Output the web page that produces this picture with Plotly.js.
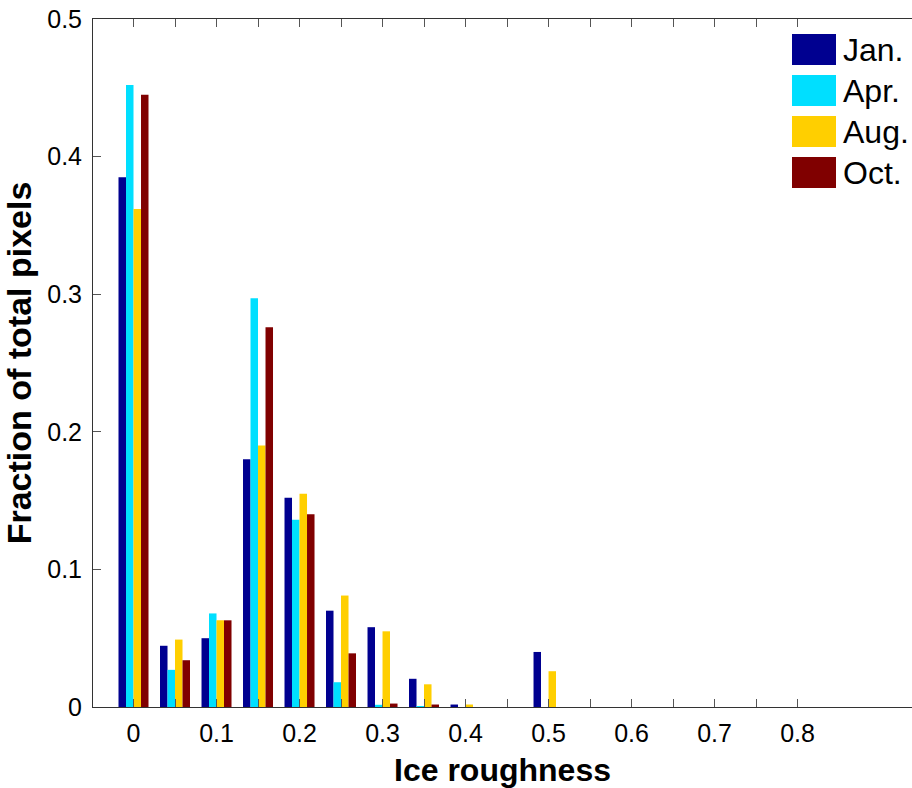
<!DOCTYPE html>
<html>
<head>
<meta charset="utf-8">
<script src="https://cdn.plot.ly/plotly-3.0.1.min.js"></script>
<style>html,body{margin:0;padding:0;background:#fff;overflow:hidden;}</style>
</head>
<body>
<div id="chart" style="width:912px;height:788px;"></div>
<script>
// ---- data ----
const roughness = [0, 0.05, 0.1, 0.15, 0.2, 0.25, 0.3, 0.35, 0.4, 0.45, 0.5, 0.55, 0.6, 0.65, 0.7, 0.75, 0.8];
const seriesNames = ['Jan.', 'Apr.', 'Aug.', 'Oct.'];
const janValues = [0.385, 0.0445, 0.050, 0.180, 0.152, 0.070, 0.058, 0.0205, 0.0018, 0, 0.040, 0, 0, 0, 0, 0, 0];
const aprValues = [0.452, 0.027, 0.068, 0.297, 0.136, 0.018, 0.0016, 0.0007, 0, 0, 0, 0, 0, 0, 0, 0, 0];
const augValues = [0.362, 0.049, 0.063, 0.190, 0.155, 0.081, 0.055, 0.0165, 0.0018, 0, 0.026, 0, 0, 0, 0, 0, 0];
const octValues = [0.445, 0.034, 0.063, 0.276, 0.140, 0.039, 0.0025, 0.0018, 0, 0, 0, 0, 0, 0, 0, 0, 0];
const xTickVals = [0, 0.05, 0.1, 0.15, 0.2, 0.25, 0.3, 0.35, 0.4, 0.45, 0.5, 0.55, 0.6, 0.65, 0.7, 0.75, 0.8];
const xTickText = ['0', '', '0.1', '', '0.2', '', '0.3', '', '0.4', '', '0.5', '', '0.6', '', '0.7', '', '0.8'];
const yTickVals = [0, 0.1, 0.2, 0.3, 0.4, 0.5];
const yTickText = ['0', '0.1', '0.2', '0.3', '0.4', '0.5'];

// ---- styles ----
const colors = ['#000090', '#00DFFF', '#FFCF00', '#800000'];
const allValues = [janValues, aprValues, augValues, octValues];
const FONT = 'Liberation Sans, Arial, Helvetica, sans-serif';

const traces = seriesNames.map((name, i) => ({
  type: 'bar',
  name: name,
  x: roughness,
  y: allValues[i],
  marker: {color: colors[i], line: {width: 0}},
  showlegend: false,
  hoverinfo: 'x+y+name'
}));

const W = 912, H = 788;
const margin = {l: 93, r: 0, t: 19, b: 81};
const plotW = W - margin.l - margin.r;
const plotH = H - margin.t - margin.b;

// custom legend (large swatches like the original)
const shapes = [];
const annotations = [];
const legLeft = 792, legSwW = 44, legSwH = 31, legTop = 34, legStep = 41, legTextGap = 5;
seriesNames.forEach((name, i) => {
  const top = legTop + i * legStep;
  const bottom = top + legSwH;
  shapes.push({
    type: 'rect', xref: 'paper', yref: 'paper',
    x0: (legLeft - margin.l) / plotW, x1: (legLeft + legSwW - margin.l) / plotW,
    y0: (H - margin.b - bottom) / plotH, y1: (H - margin.b - top) / plotH,
    fillcolor: colors[i], line: {width: 0}
  });
  annotations.push({
    xref: 'paper', yref: 'paper',
    x: (legLeft + legSwW + legTextGap - margin.l) / plotW,
    y: (H - margin.b - (top + bottom) / 2) / plotH,
    xanchor: 'left', yanchor: 'middle',
    text: name, showarrow: false,
    font: {family: FONT, size: 32, color: '#000'}
  });
});

const layout = {
  width: W, height: H,
  margin: margin,
  paper_bgcolor: '#fff', plot_bgcolor: '#fff',
  barmode: 'group', bargap: 0.277, bargroupgap: 0,
  font: {family: FONT, color: '#000'},
  xaxis: {
    range: [-0.0488, 0.9379],
    tickmode: 'array', tickvals: xTickVals, ticktext: xTickText,
    ticks: 'inside', ticklen: 8, tickwidth: 1, tickcolor: '#555',
    showline: true, linecolor: '#333', linewidth: 1, mirror: 'ticks',
    showgrid: false, zeroline: false,
    tickfont: {family: FONT, size: 25, color: '#000'},
    ticklabelstandoff: 4,
    title: {text: '<b>Ice roughness</b>', font: {family: FONT, size: 32, color: '#000'}, standoff: 14}
  },
  yaxis: {
    range: [0, 0.5],
    tickmode: 'array', tickvals: yTickVals, ticktext: yTickText,
    ticks: 'inside', ticklen: 8, tickwidth: 1, tickcolor: '#555',
    showline: true, linecolor: '#333', linewidth: 1, mirror: false,
    showgrid: false, zeroline: false,
    tickfont: {family: FONT, size: 25, color: '#000'},
    ticklabelstandoff: 5,
    title: {text: '<b>Fraction of total pixels</b>', font: {family: FONT, size: 34, color: '#000'}, standoff: 8}
  },
  shapes: shapes,
  annotations: annotations
};

Plotly.newPlot('chart', traces, layout, {displayModeBar: false, responsive: false});
</script>
</body>
</html>
